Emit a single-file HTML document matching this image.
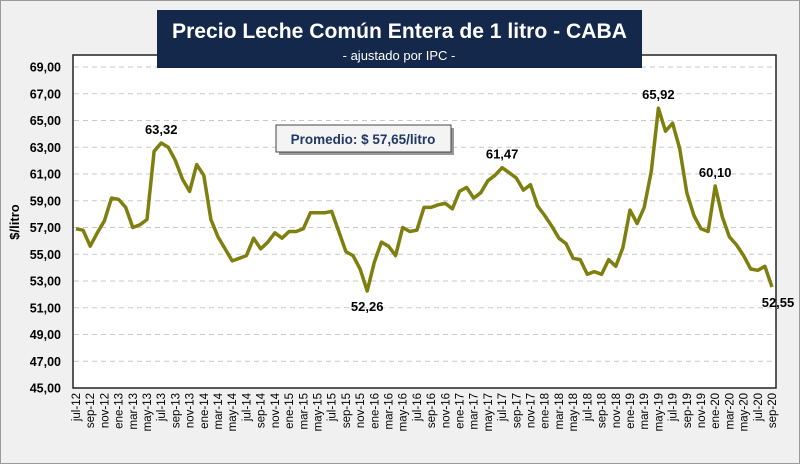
<!DOCTYPE html>
<html><head><meta charset="utf-8"><style>
body{margin:0;background:#fff;}
svg text{font-family:"Liberation Sans",sans-serif;}
</style></head><body>
<svg id="chart" width="800" height="464" viewBox="0 0 800 464" xmlns="http://www.w3.org/2000/svg">
<rect x="0.5" y="0.5" width="799" height="463" fill="#f0f0f0" stroke="#9a9a9a"/>
<rect x="73" y="55" width="703" height="333" fill="#fff" stroke="#222" stroke-width="1.5"/>
<g id="grid"></g>
<g id="yticks"></g>
<g id="xticks"></g>
<path id="line" fill="none" stroke="#7f7f0f" stroke-width="3.5" stroke-linejoin="round"/>
<g id="labels"></g>
<rect x="157" y="10" width="485" height="58" fill="#14284b"/>
<text x="172" y="38" textLength="455" lengthAdjust="spacingAndGlyphs" fill="#fff" font-size="21" font-weight="bold">Precio Leche Común Entera de 1 litro - CABA</text>
<text x="399" y="60" text-anchor="middle" fill="#fff" font-size="13">- ajustado por IPC -</text>
<rect x="279" y="128" width="175" height="27" fill="#999"/>
<rect x="276" y="125" width="175" height="27" fill="#f4f4f4" stroke="#444"/>
<text x="363" y="144" text-anchor="middle" fill="#1f3864" font-size="13.5" font-weight="bold">Promedio: $ 57,65/litro</text>
<text transform="translate(19,222) rotate(-90)" text-anchor="middle" font-size="13" font-weight="bold">$/litro</text>
</svg>
<script>
const months=["jul","ago","sep","oct","nov","dic","ene","feb","mar","abr","may","jun"];
const values=[56.9,56.8,55.6,56.6,57.5,59.2,
59.1,58.5,57.0,57.2,57.6,62.7,63.32,63.0,62.0,60.6,59.7,61.7,
60.9,57.6,56.3,55.4,54.5,54.7,54.9,56.2,55.4,55.9,56.6,56.2,
56.7,56.7,56.9,58.1,58.1,58.1,58.2,56.7,55.2,54.9,53.9,52.26,
54.4,55.9,55.6,54.9,57.0,56.7,56.8,58.5,58.5,58.7,58.8,58.4,
59.7,60.0,59.2,59.6,60.5,60.9,61.47,61.1,60.7,59.8,60.2,58.6,
57.9,57.1,56.2,55.8,54.7,54.6,53.5,53.7,53.5,54.6,54.1,55.5,
58.3,57.3,58.5,61.2,65.92,64.2,64.8,62.9,59.6,57.9,56.9,56.7,
60.1,57.8,56.3,55.7,54.9,53.9,53.8,54.1,52.55];
const yTicks=[45,47,49,51,53,55,57,59,61,63,65,67,69];
const annotations=[{i:12,t:"63,32",pos:"up"},{i:41,t:"52,26",pos:"down"},{i:60,t:"61,47",pos:"up"},{i:82,t:"65,92",pos:"up"},{i:90,t:"60,10",pos:"up"},{i:98,t:"52,55",pos:"down"}];
const ns="http://www.w3.org/2000/svg";
const x0=76,x1=772,yMin=45,yMax=69,yTop=67,yBot=388;
const X=i=>x0+(x1-x0)*i/(values.length-1);
const Y=v=>yBot-(v-yMin)*(yBot-yTop)/(yMax-yMin);
function mk(tag,attrs,parent,txt){const e=document.createElementNS(ns,tag);for(const k in attrs)e.setAttribute(k,attrs[k]);if(txt!=null)e.textContent=txt;document.getElementById(parent).appendChild(e);return e;}
yTicks.forEach(v=>{
 if(v>yMin){const g=mk("line",{x1:74,x2:775,y1:Y(v),y2:Y(v),stroke:"#c8c8c8","stroke-dasharray":"5,4"},"grid");
 
 }
 const t=mk("text",{x:61,y:Y(v)+4.5,"text-anchor":"end","font-size":"12.5","font-weight":"bold"},"yticks",v.toFixed(2).replace(".",","));
 
 
});
values.forEach((v,i)=>{
 if(i%2===0){
  const m=months[i%12];const yr=12+Math.floor((i+6)/12);
  const t=mk("text",{transform:`translate(${X(i)+4},393) rotate(-90)`,"text-anchor":"end","font-size":"11.5"},"xticks",m+"-"+yr);
  
  
 }
});
document.getElementById("line").setAttribute("d",values.map((v,i)=>(i?"L":"M")+X(i).toFixed(1)+","+Y(v).toFixed(1)).join(""));
annotations.forEach(a=>{
 const x=a.i===98?X(a.i)+6:X(a.i);
 const y=a.pos==="up"?Y(values[a.i])-9:Y(values[a.i])+20;
 const t=mk("text",{x:x,y:y,"text-anchor":"middle","font-size":"13","font-weight":"bold"},"labels",a.t);
 
 
});
</script>
</body></html>
